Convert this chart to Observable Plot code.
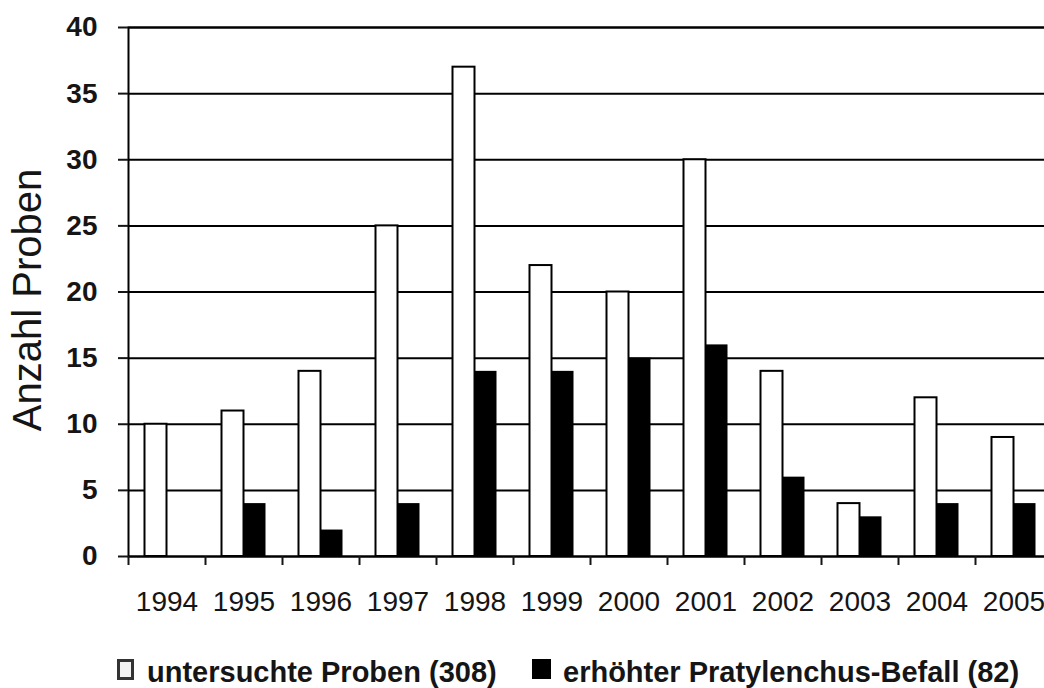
<!DOCTYPE html>
<html>
<head>
<meta charset="utf-8">
<script src="https://cdn.jsdelivr.net/npm/d3@7"></script>
<script src="https://cdn.jsdelivr.net/npm/@observablehq/plot@0.6"></script>
<style>
html, body { margin: 0; padding: 0; background: #fff; overflow: hidden; width: 1044px; height: 688px; }
#chart { position: absolute; left: 0; top: 0; }
#legend { position: absolute; left: 0; top: 658px; width: 1044px; height: 30px;
  font-family: "Liberation Sans", Arial, sans-serif; font-weight: bold; font-size: 29px; line-height: 29px; color: #151515; white-space: nowrap; }
#legend .item { position: absolute; top: 0; }
#legend .sw { position: absolute; top: 1px; box-sizing: border-box; }
</style>
</head>
<body>
<div id="chart"></div>
<div id="legend"></div>
<script>
// ---- data ----
const years = ["1994","1995","1996","1997","1998","1999","2000","2001","2002","2003","2004","2005"];
const untersucht = [10, 11, 14, 25, 37, 22, 20, 30, 14, 4, 12, 9];
const befall     = [0, 4, 2, 4, 14, 14, 15, 16, 6, 3, 4, 4];
const seriesNames = ["untersuchte Proben (308)", "erhöhter Pratylenchus-Befall (82)"];
const yTicks = [0, 5, 10, 15, 20, 25, 30, 35, 40];
const yLabel = "Anzahl Proben";

// ---- layout ----
const W = 1044, H = 640;
const mL = 128, mT = 27, mB = 84;
const step = 77;                       // width of one year band
const mR = W - mL - step * years.length; // plot runs past the right edge, as in the reference
const barW = 22;

const rows = years.flatMap((y, i) => [
  {year: y, series: seriesNames[0], value: untersucht[i]},
  {year: y, series: seriesNames[1], value: befall[i]}
]);

const font = "Liberation Sans, Arial, sans-serif";

const chart = Plot.plot({
  width: W, height: H,
  marginLeft: mL, marginRight: mR, marginTop: mT, marginBottom: mB,
  style: {fontFamily: font, color: "#151515", background: "#fff"},
  x: {type: "band", domain: years, padding: 0},
  y: {domain: [0, 40]},
  color: {domain: seriesNames, range: ["#ffffff", "#000000"]},
  marks: [
    Plot.gridY(yTicks, {stroke: "#000", strokeOpacity: 1, strokeWidth: 2}),
    Plot.barY(rows.filter(d => d.series === seriesNames[0]), {
      x: "year", y: "value", fill: "series", stroke: "#000", strokeWidth: 2,
      insetLeft: step / 2 - barW, insetRight: step / 2
    }),
    Plot.barY(rows.filter(d => d.series === seriesNames[1]), {
      x: "year", y: "value", fill: "series",
      insetLeft: step / 2, insetRight: step / 2 - barW
    }),
    Plot.frame({stroke: "#000", strokeWidth: 2}),
    Plot.axisY(yTicks, {
      tickSize: 10, tickPadding: 21, fontSize: 28, fontWeight: "bold",
      strokeWidth: 2, label: null
    }),
    Plot.text([yLabel], {
      frameAnchor: "left", textAnchor: "middle", lineAnchor: "middle", rotate: -90,
      fontSize: 40, dx: -100, dy: 8, fill: "#151515"
    }),
    Plot.axisX({tickSize: 9, tickFormat: () => "", dx: -step / 2, strokeWidth: 2, label: null}),
    Plot.axisX({tickSize: 0, tickPadding: 35, fontSize: 28, label: null})
  ]
});
document.getElementById("chart").appendChild(chart);

// ---- legend ----
const legend = document.getElementById("legend");
const legendPos = [
  {sw: 117, text: 147, w: 17, h: 21, fill: "#f2f2f2", border: "3px solid #333"},
  {sw: 532, text: 563, w: 19, h: 20, fill: "#000", border: "none"}
];
seriesNames.forEach((name, i) => {
  const p = legendPos[i];
  const sw = document.createElement("div");
  sw.className = "sw";
  sw.style.left = p.sw + "px";
  sw.style.width = p.w + "px";
  sw.style.height = p.h + "px";
  sw.style.background = p.fill;
  sw.style.border = p.border;
  legend.appendChild(sw);
  const t = document.createElement("div");
  t.className = "item";
  t.style.left = p.text + "px";
  t.textContent = name;
  legend.appendChild(t);
});
</script>
</body>
</html>
